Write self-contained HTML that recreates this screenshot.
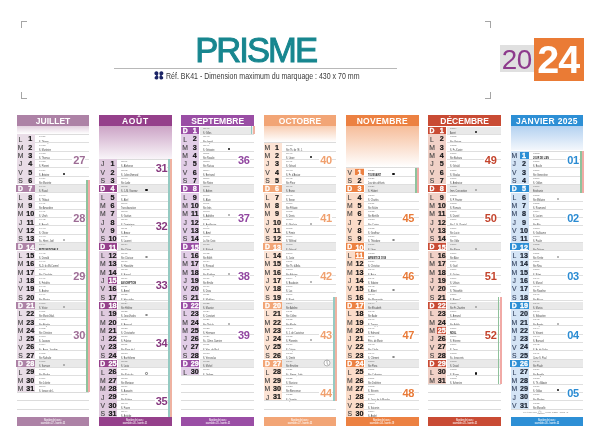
<!DOCTYPE html>
<html lang="fr"><head><meta charset="utf-8"><title>Calendrier Prisme 2024</title>
<style>
*{margin:0;padding:0;box-sizing:border-box}
html,body{width:600px;height:442px;overflow:hidden;background:#fff}
body{position:relative;font-family:"Liberation Sans",Arial,sans-serif}
div,span,i,b{position:absolute;display:block;font-style:normal}
.cm{width:6.5px;height:6.5px;border:0 solid #a5a5a5}
#title{left:195.2px;top:30.5px;width:126px;font-size:34.6px;line-height:38px;color:#17868f;letter-spacing:-1.95px;white-space:nowrap;-webkit-text-stroke:1.0px #17868f}
#rule{left:114px;top:67.6px;width:283px;height:0.8px;background:#b8b8b8}
#ref{left:153.6px;top:71.4px;height:9px;white-space:nowrap}
#ref svg{position:absolute;left:0;top:0}
#ref span{left:12.5px;top:0.6px;font-size:9px;line-height:9px;color:#3a3a3a;transform:scaleX(0.78);transform-origin:0 0}
#y20{left:499.7px;top:45.4px;width:34px;height:27px;background:#e0e0e0;color:#8d3a8c;font-size:27.8px;line-height:30px;text-align:center;letter-spacing:-0.5px}
#y24{left:533.5px;top:37.9px;width:50.4px;height:42.7px;background:#ea7b35;color:#fff;font-weight:bold;font-size:39.5px;line-height:43px;text-align:center;letter-spacing:-1px;text-indent:-1px}
.hd{top:114.5px;height:11.3px;overflow:hidden;color:#fff;font-weight:bold;font-size:8.5px;line-height:13px;text-align:center;white-space:nowrap}
.rw{width:72.6px;height:8.326px}
.rw:after{content:'';position:absolute;left:18.3px;right:0;bottom:-0.4px;height:0.8px;background:#dfdfdf}
.rw .cb{left:0;top:0;width:18px;height:8.4px}
.rw .cs{left:-0.5px;top:0.8px;width:18.5px;height:7px}
.rw .tx{left:18.5px;top:0.8px;width:54.1px;height:7px;background:#e9e9e9}
.rw .hb{left:9px;top:0.9px;width:9px;height:6.8px}
.lt{left:-0.2px;top:1.2px;width:7.8px;text-align:center;font-size:6.8px;line-height:8.3px;color:#404040;-webkit-text-stroke:0.1px #404040}
.nb{left:8.4px;top:1.0px;width:10px;text-align:center;font-size:7.2px;line-height:8.3px;font-weight:bold;color:#151515;-webkit-text-stroke:0.2px #151515}
.lt.w,.nb.w{color:#fff;font-weight:bold;-webkit-text-stroke:0.3px #fff}
.lt.w{top:0.9px}
.t1{left:22px;top:0.9px;font-size:10px;line-height:10px;color:#707070;white-space:nowrap;transform:scale(0.26,0.25);transform-origin:0 0}
.t2{left:22px;top:6.2px;font-size:10px;line-height:10px;color:#444;white-space:nowrap;transform:scale(0.225,0.27);transform-origin:0 0}
.t2.bb{font-weight:bold;color:#222}
.mn{left:46.4px;top:5px;width:2.2px;height:2.2px;border-radius:50%;background:#111}
.mo{left:46.4px;top:5px;width:2.2px;height:2.2px;border-radius:50%;border:0.4px solid #888}
.el{height:0.8px;background:#dcdcdc}
.s1{width:1.7px}
.s2{width:2.0px}
.wk{width:12.6px;height:9.2px;background:#fff;text-align:right;font-size:11px;line-height:9.2px;font-weight:bold;letter-spacing:-0.3px;overflow:visible;white-space:nowrap}
.ft{top:417.3px;height:8.3px;color:rgba(255,255,255,0.85);font-weight:bold;text-align:center}
.ft span{left:50%;font-size:10px;line-height:10px;white-space:nowrap;transform:scale(0.21,0.27) translateX(-50%);transform-origin:0 0}
.ft span:first-child{top:1.3px}
.ft span:last-child{top:4.8px}
#legend{left:523px;top:411.3px;width:48px;height:4px;color:#6a6a6a;white-space:nowrap}
#legend span{top:0;font-size:2.2px;line-height:2.6px}
#legend .la{left:0;transform:scaleX(0.56);transform-origin:0 0}
#legend .lb{left:15.2px;top:-0.6px;font-size:3.6px;line-height:3.6px;color:#999}
#legend .lc{left:13.5px;top:2.2px;font-size:1.6px;transform:scaleX(0.8);transform-origin:0 0}
#legend .ld{left:21.5px;transform:scaleX(1.05);transform-origin:0 0}
.clk{position:absolute;left:59.3px;top:0.3px}
.jan .lt:not(.w){color:#34425e;-webkit-text-stroke-color:#34425e}
.jan .nb:not(.w){color:#18202e;-webkit-text-stroke-color:#18202e}

</style></head><body>
<div class="cm" style="left:20.5px;top:21px;border-width:1px 0 0 1px"></div>
<div class="cm" style="left:20.5px;top:92px;border-width:0 0 1px 1px"></div>
<div class="cm" style="left:484.5px;top:21px;border-width:1px 1px 0 0"></div>
<div class="cm" style="left:484.5px;top:92px;border-width:0 1px 1px 0"></div>
<div id="title">PRISME</div>
<div id="rule"></div>
<div id="ref"><svg width="10" height="9" viewBox="0 0 10 9"><g fill="#1b2466"><path d="M0.4 2.3C0.4 0.9 1.5 0.2 2.6 0.3C3.7 0.4 4.4 1.3 4.4 2.4C4.4 3.3 3.9 3.9 3.3 4.3C3.9 4.7 4.4 5.4 4.4 6.4C4.4 7.7 3.5 8.5 2.4 8.5C1.2 8.5 0.4 7.6 0.6 6.5C0.8 5.6 1.6 5.1 2.3 4.4C1.2 4.2 0.4 3.4 0.4 2.3Z"/><path d="M9.4 2.3C9.4 0.9 8.3 0.2 7.2 0.3C6.1 0.4 5.4 1.3 5.4 2.4C5.4 3.3 5.9 3.9 6.5 4.3C5.9 4.7 5.4 5.4 5.4 6.4C5.4 7.7 6.3 8.5 7.4 8.5C8.6 8.5 9.4 7.6 9.2 6.5C9 5.6 8.2 5.1 7.5 4.4C8.6 4.2 9.4 3.4 9.4 2.3Z"/></g></svg><span>Réf. BK41 - Dimension maximum du marquage : 430 x 70 mm</span></div>
<div id="y20">20</div><div id="y24">24</div>
<div class="hd" style="left:16.8px;width:72.6px;background:#ad82a6;letter-spacing:0px">JUILLET</div>
<div class="gr" style="left:16.8px;top:126px;width:72.6px;height:7.53px;background:linear-gradient(#e3d1df,#fff)"></div>
<i class="el" style="left:16.8px;top:133.93px;width:72.6px"></i>
<div class="rw" style="left:16.8px;top:134.33px">
<b class="cb" style="background:#e9dde7"></b>
<span class="lt">L</span><span class="nb">1</span>
<span class="t1">04:37</span><span class="t2">S. Thierry</span>
</div>
<div class="rw" style="left:16.8px;top:142.65px">
<b class="cb" style="background:#e9dde7"></b>
<span class="lt">M</span><span class="nb">2</span>
<span class="t1">04:38</span><span class="t2">S. Martinien</span>
</div>
<div class="rw" style="left:16.8px;top:150.98px">
<b class="cb" style="background:#e9dde7"></b>
<span class="lt">M</span><span class="nb">3</span>
<span class="t1">04:38</span><span class="t2">S. Thomas</span>
</div>
<div class="rw" style="left:16.8px;top:159.3px">
<b class="cb" style="background:#e9dde7"></b>
<span class="lt">J</span><span class="nb">4</span>
<span class="t1">04:38</span><span class="t2">S. Florent</span>
</div>
<div class="rw" style="left:16.8px;top:167.63px">
<b class="cb" style="background:#e9dde7"></b>
<span class="lt">V</span><span class="nb">5</span>
<span class="t1">04:39</span><span class="t2">S. Antoine</span>
<i class="mn"></i>
</div>
<div class="rw" style="left:16.8px;top:175.96px">
<b class="cb" style="background:#e9dde7"></b>
<span class="lt">S</span><span class="nb">6</span>
<span class="t1">04:39</span><span class="t2">Ste Mariette</span>
</div>
<div class="rw sun" style="left:16.8px;top:184.28px">
<b class="cs" style="background:#ad82a6"></b><i class="tx"></i>
<span class="lt w">D</span><span class="nb w">7</span>
<span class="t1">04:40</span><span class="t2">S. Raoul</span>
</div>
<div class="rw" style="left:16.8px;top:192.61px">
<b class="cb" style="background:#e9dde7"></b>
<span class="lt">L</span><span class="nb">8</span>
<span class="t1">04:40</span><span class="t2">S. Thibaut</span>
</div>
<div class="rw" style="left:16.8px;top:200.93px">
<b class="cb" style="background:#e9dde7"></b>
<span class="lt">M</span><span class="nb">9</span>
<span class="t1">04:41</span><span class="t2">Ste Amandine</span>
</div>
<div class="rw" style="left:16.8px;top:209.26px">
<b class="cb" style="background:#e9dde7"></b>
<span class="lt">M</span><span class="nb">10</span>
<span class="t1">04:41</span><span class="t2">S. Ulrich</span>
</div>
<div class="rw" style="left:16.8px;top:217.59px">
<b class="cb" style="background:#e9dde7"></b>
<span class="lt">J</span><span class="nb">11</span>
<span class="t1">04:42</span><span class="t2">S. Benoît</span>
</div>
<div class="rw" style="left:16.8px;top:225.91px">
<b class="cb" style="background:#e9dde7"></b>
<span class="lt">V</span><span class="nb">12</span>
<span class="t1">04:43</span><span class="t2">S. Olivier</span>
</div>
<div class="rw" style="left:16.8px;top:234.24px">
<b class="cb" style="background:#e9dde7"></b>
<span class="lt">S</span><span class="nb">13</span>
<span class="t1">04:43</span><span class="t2">Ss. Henri, Joël</span>
<i class="mo"></i>
</div>
<div class="rw sun" style="left:16.8px;top:242.56px">
<b class="cs" style="background:#ad82a6"></b><i class="tx"></i>
<span class="lt w">D</span><span class="nb w">14</span>
<span class="t1">04:44</span><span class="t2 bb">FÊTE NATIONALE</span>
</div>
<div class="rw" style="left:16.8px;top:250.89px">
<b class="cb" style="background:#e9dde7"></b>
<span class="lt">L</span><span class="nb">15</span>
<span class="t1">04:45</span><span class="t2">S. Donald</span>
</div>
<div class="rw" style="left:16.8px;top:259.22px">
<b class="cb" style="background:#e9dde7"></b>
<span class="lt">M</span><span class="nb">16</span>
<span class="t1">04:46</span><span class="t2">N.-D. du Mt-Carmel</span>
</div>
<div class="rw" style="left:16.8px;top:267.54px">
<b class="cb" style="background:#e9dde7"></b>
<span class="lt">M</span><span class="nb">17</span>
<span class="t1">04:46</span><span class="t2">Ste Charlotte</span>
</div>
<div class="rw" style="left:16.8px;top:275.87px">
<b class="cb" style="background:#e9dde7"></b>
<span class="lt">J</span><span class="nb">18</span>
<span class="t1">04:47</span><span class="t2">S. Frédéric</span>
</div>
<div class="rw" style="left:16.8px;top:284.19px">
<b class="cb" style="background:#e9dde7"></b>
<span class="lt">V</span><span class="nb">19</span>
<span class="t1">04:48</span><span class="t2">S. Arsène</span>
</div>
<div class="rw" style="left:16.8px;top:292.52px">
<b class="cb" style="background:#e9dde7"></b>
<span class="lt">S</span><span class="nb">20</span>
<span class="t1">04:49</span><span class="t2">Ste Marina</span>
</div>
<div class="rw sun" style="left:16.8px;top:300.85px">
<b class="cs" style="background:#ad82a6"></b><i class="tx"></i>
<span class="lt w">D</span><span class="nb w">21</span>
<span class="t1">04:50</span><span class="t2">S. Victor</span>
<i class="mo"></i>
</div>
<div class="rw" style="left:16.8px;top:309.17px">
<b class="cb" style="background:#e9dde7"></b>
<span class="lt">L</span><span class="nb">22</span>
<span class="t1">04:51</span><span class="t2">Ste Marie-Mad.</span>
</div>
<div class="rw" style="left:16.8px;top:317.5px">
<b class="cb" style="background:#e9dde7"></b>
<span class="lt">M</span><span class="nb">23</span>
<span class="t1">04:52</span><span class="t2">Ste Brigitte</span>
</div>
<div class="rw" style="left:16.8px;top:325.82px">
<b class="cb" style="background:#e9dde7"></b>
<span class="lt">M</span><span class="nb">24</span>
<span class="t1">04:52</span><span class="t2">Ste Christine</span>
</div>
<div class="rw" style="left:16.8px;top:334.15px">
<b class="cb" style="background:#e9dde7"></b>
<span class="lt">J</span><span class="nb">25</span>
<span class="t1">04:53</span><span class="t2">S. Jacques</span>
</div>
<div class="rw" style="left:16.8px;top:342.48px">
<b class="cb" style="background:#e9dde7"></b>
<span class="lt">V</span><span class="nb">26</span>
<span class="t1">04:54</span><span class="t2">Ss. Anne, Joachim</span>
</div>
<div class="rw" style="left:16.8px;top:350.8px">
<b class="cb" style="background:#e9dde7"></b>
<span class="lt">S</span><span class="nb">27</span>
<span class="t1">04:55</span><span class="t2">Ste Nathalie</span>
</div>
<div class="rw sun" style="left:16.8px;top:359.13px">
<b class="cs" style="background:#ad82a6"></b><i class="tx"></i>
<span class="lt w">D</span><span class="nb w">28</span>
<span class="t1">04:57</span><span class="t2">S. Samson</span>
<i class="mo"></i>
</div>
<div class="rw" style="left:16.8px;top:367.45px">
<b class="cb" style="background:#e9dde7"></b>
<span class="lt">L</span><span class="nb">29</span>
<span class="t1">04:58</span><span class="t2">Ste Marthe</span>
</div>
<div class="rw" style="left:16.8px;top:375.78px">
<b class="cb" style="background:#e9dde7"></b>
<span class="lt">M</span><span class="nb">30</span>
<span class="t1">04:59</span><span class="t2">Ste Juliette</span>
</div>
<div class="rw" style="left:16.8px;top:384.11px">
<b class="cb" style="background:#e9dde7"></b>
<span class="lt">M</span><span class="nb">31</span>
<span class="t1">05:00</span><span class="t2">S. Ignace de L.</span>
</div>
<i class="el" style="left:16.8px;top:392.03px;width:72.6px"></i>
<i class="el" style="left:16.8px;top:400.36px;width:72.6px"></i>
<i class="el" style="left:16.8px;top:408.68px;width:72.6px"></i>
<i class="s1" style="left:86.1px;top:180.12px;height:212.31px;background:#8fc29c"></i>
<i class="s2" style="left:88px;top:180.12px;height:212.31px;background:#f1aaa6"></i>
<span class="wk" style="left:72.4px;top:155.8px;color:#9d6c95">27</span>
<span class="wk" style="left:72.4px;top:214.09px;color:#9d6c95">28</span>
<span class="wk" style="left:72.4px;top:272.37px;color:#9d6c95">29</span>
<span class="wk" style="left:72.4px;top:330.65px;color:#9d6c95">30</span>
<div class="ft" style="left:16.8px;width:72.6px;background:#ad82a6"><span>Nombre de jours :</span><span>ouvrables 27 - ouvrés 23</span></div>
<div class="hd" style="left:99.1px;width:72.6px;background:#95408b;letter-spacing:0.7px">AOÛT</div>
<div class="gr" style="left:99.1px;top:126px;width:72.6px;height:32.5px;background:linear-gradient(#cca4c6,#f9f5f9)"></div>
<i class="el" style="left:99.1px;top:158.9px;width:72.6px"></i>
<div class="rw" style="left:99.1px;top:159.3px">
<b class="cb" style="background:#dfcade"></b>
<span class="lt">J</span><span class="nb">1</span>
<span class="t1">05:01</span><span class="t2">S. Alphonse</span>
</div>
<div class="rw" style="left:99.1px;top:167.63px">
<b class="cb" style="background:#dfcade"></b>
<span class="lt">V</span><span class="nb">2</span>
<span class="t1">05:02</span><span class="t2">S. Julien-Eymard</span>
</div>
<div class="rw" style="left:99.1px;top:175.96px">
<b class="cb" style="background:#dfcade"></b>
<span class="lt">S</span><span class="nb">3</span>
<span class="t1">05:03</span><span class="t2">Ste Lydie</span>
</div>
<div class="rw sun" style="left:99.1px;top:184.28px">
<b class="cs" style="background:#95408b"></b><i class="tx"></i>
<span class="lt w">D</span><span class="nb w">4</span>
<span class="t1">05:05</span><span class="t2">S. J.-M. Vianney</span>
<i class="mn"></i>
</div>
<div class="rw" style="left:99.1px;top:192.61px">
<b class="cb" style="background:#dfcade"></b>
<span class="lt">L</span><span class="nb">5</span>
<span class="t1">05:06</span><span class="t2">S. Abel</span>
</div>
<div class="rw" style="left:99.1px;top:200.93px">
<b class="cb" style="background:#dfcade"></b>
<span class="lt">M</span><span class="nb">6</span>
<span class="t1">05:07</span><span class="t2">Transfiguration</span>
</div>
<div class="rw" style="left:99.1px;top:209.26px">
<b class="cb" style="background:#dfcade"></b>
<span class="lt">M</span><span class="nb">7</span>
<span class="t1">05:08</span><span class="t2">S. Gaëtan</span>
</div>
<div class="rw" style="left:99.1px;top:217.59px">
<b class="cb" style="background:#dfcade"></b>
<span class="lt">J</span><span class="nb">8</span>
<span class="t1">05:10</span><span class="t2">S. Dominique</span>
</div>
<div class="rw" style="left:99.1px;top:225.91px">
<b class="cb" style="background:#dfcade"></b>
<span class="lt">V</span><span class="nb">9</span>
<span class="t1">05:11</span><span class="t2">S. Amour</span>
</div>
<div class="rw" style="left:99.1px;top:234.24px">
<b class="cb" style="background:#dfcade"></b>
<span class="lt">S</span><span class="nb">10</span>
<span class="t1">05:12</span><span class="t2">S. Laurent</span>
</div>
<div class="rw sun" style="left:99.1px;top:242.56px">
<b class="cs" style="background:#95408b"></b><i class="tx"></i>
<span class="lt w">D</span><span class="nb w">11</span>
<span class="t1">05:14</span><span class="t2">Ste Claire</span>
</div>
<div class="rw" style="left:99.1px;top:250.89px">
<b class="cb" style="background:#dfcade"></b>
<span class="lt">L</span><span class="nb">12</span>
<span class="t1">05:15</span><span class="t2">Ste Clarisse</span>
<i class="mo"></i>
</div>
<div class="rw" style="left:99.1px;top:259.22px">
<b class="cb" style="background:#dfcade"></b>
<span class="lt">M</span><span class="nb">13</span>
<span class="t1">05:16</span><span class="t2">S. Hippolyte</span>
</div>
<div class="rw" style="left:99.1px;top:267.54px">
<b class="cb" style="background:#dfcade"></b>
<span class="lt">M</span><span class="nb">14</span>
<span class="t1">05:18</span><span class="t2">S. Evrard</span>
</div>
<div class="rw" style="left:99.1px;top:275.87px">
<b class="cb" style="background:#dfcade"></b>
<b class="hb" style="background:#95408b"></b>
<span class="lt">J</span><span class="nb w">15</span>
<span class="t1">05:19</span><span class="t2 bb">ASSOMPTION</span>
</div>
<div class="rw" style="left:99.1px;top:284.19px">
<b class="cb" style="background:#dfcade"></b>
<span class="lt">V</span><span class="nb">16</span>
<span class="t1">05:21</span><span class="t2">S. Armel</span>
</div>
<div class="rw" style="left:99.1px;top:292.52px">
<b class="cb" style="background:#dfcade"></b>
<span class="lt">S</span><span class="nb">17</span>
<span class="t1">05:22</span><span class="t2">S. Hyacinthe</span>
</div>
<div class="rw sun" style="left:99.1px;top:300.85px">
<b class="cs" style="background:#95408b"></b><i class="tx"></i>
<span class="lt w">D</span><span class="nb w">18</span>
<span class="t1">05:24</span><span class="t2">Ste Hélène</span>
</div>
<div class="rw" style="left:99.1px;top:309.17px">
<b class="cb" style="background:#dfcade"></b>
<span class="lt">L</span><span class="nb">19</span>
<span class="t1">05:25</span><span class="t2">S. Jean-Eudes</span>
<i class="mo"></i>
</div>
<div class="rw" style="left:99.1px;top:317.5px">
<b class="cb" style="background:#dfcade"></b>
<span class="lt">M</span><span class="nb">20</span>
<span class="t1">05:27</span><span class="t2">S. Bernard</span>
</div>
<div class="rw" style="left:99.1px;top:325.82px">
<b class="cb" style="background:#dfcade"></b>
<span class="lt">M</span><span class="nb">21</span>
<span class="t1">05:28</span><span class="t2">S. Christophe</span>
</div>
<div class="rw" style="left:99.1px;top:334.15px">
<b class="cb" style="background:#dfcade"></b>
<span class="lt">J</span><span class="nb">22</span>
<span class="t1">05:30</span><span class="t2">S. Fabrice</span>
</div>
<div class="rw" style="left:99.1px;top:342.48px">
<b class="cb" style="background:#dfcade"></b>
<span class="lt">V</span><span class="nb">23</span>
<span class="t1">05:31</span><span class="t2">Ste Rose de L.</span>
</div>
<div class="rw" style="left:99.1px;top:350.8px">
<b class="cb" style="background:#dfcade"></b>
<span class="lt">S</span><span class="nb">24</span>
<span class="t1">05:33</span><span class="t2">S. Barthélemy</span>
</div>
<div class="rw sun" style="left:99.1px;top:359.13px">
<b class="cs" style="background:#95408b"></b><i class="tx"></i>
<span class="lt w">D</span><span class="nb w">25</span>
<span class="t1">05:35</span><span class="t2">S. Louis</span>
</div>
<div class="rw" style="left:99.1px;top:367.45px">
<b class="cb" style="background:#dfcade"></b>
<span class="lt">L</span><span class="nb">26</span>
<span class="t1">05:36</span><span class="t2">Ste Natacha</span>
<i class="mo"></i>
</div>
<div class="rw" style="left:99.1px;top:375.78px">
<b class="cb" style="background:#dfcade"></b>
<span class="lt">M</span><span class="nb">27</span>
<span class="t1">05:38</span><span class="t2">Ste Monique</span>
</div>
<div class="rw" style="left:99.1px;top:384.11px">
<b class="cb" style="background:#dfcade"></b>
<span class="lt">M</span><span class="nb">28</span>
<span class="t1">05:39</span><span class="t2">S. Augustin</span>
</div>
<div class="rw" style="left:99.1px;top:392.43px">
<b class="cb" style="background:#dfcade"></b>
<span class="lt">J</span><span class="nb">29</span>
<span class="t1">05:41</span><span class="t2">Ste Sabine</span>
</div>
<div class="rw" style="left:99.1px;top:400.76px">
<b class="cb" style="background:#dfcade"></b>
<span class="lt">V</span><span class="nb">30</span>
<span class="t1">05:43</span><span class="t2">S. Fiacre</span>
</div>
<div class="rw" style="left:99.1px;top:409.08px">
<b class="cb" style="background:#dfcade"></b>
<span class="lt">S</span><span class="nb">31</span>
<span class="t1">05:44</span><span class="t2">S. Aristide</span>
</div>
<i class="s1" style="left:168.4px;top:159.3px;height:258.11px;background:#95cac2"></i>
<i class="s2" style="left:170.3px;top:159.3px;height:258.11px;background:#efb2a1"></i>
<span class="wk" style="left:154.7px;top:164.13px;color:#86377e">31</span>
<span class="wk" style="left:154.7px;top:222.41px;color:#86377e">32</span>
<span class="wk" style="left:154.7px;top:280.69px;color:#86377e">33</span>
<span class="wk" style="left:154.7px;top:338.98px;color:#86377e">34</span>
<span class="wk" style="left:154.7px;top:397.26px;color:#86377e">35</span>
<div class="ft" style="left:99.1px;width:72.6px;background:#95408b"><span>Nombre de jours :</span><span>ouvrables 26 - ouvrés 21</span></div>
<div class="hd" style="left:181.4px;width:72.6px;background:#9a4ea5;letter-spacing:0px">SEPTEMBRE</div>
<div class="rw sun" style="left:181.4px;top:126px">
<b class="cs" style="background:#9a4ea5"></b><i class="tx"></i>
<span class="lt w">D</span><span class="nb w">1</span>
<span class="t1">05:46</span><span class="t2">S. Gilles</span>
</div>
<div class="rw" style="left:181.4px;top:134.33px">
<b class="cb" style="background:#e2cee7"></b>
<span class="lt">L</span><span class="nb">2</span>
<span class="t1">05:48</span><span class="t2">Ste Ingrid</span>
</div>
<div class="rw" style="left:181.4px;top:142.65px">
<b class="cb" style="background:#e2cee7"></b>
<span class="lt">M</span><span class="nb">3</span>
<span class="t1">05:49</span><span class="t2">S. Grégoire</span>
<i class="mn"></i>
</div>
<div class="rw" style="left:181.4px;top:150.98px">
<b class="cb" style="background:#e2cee7"></b>
<span class="lt">M</span><span class="nb">4</span>
<span class="t1">05:51</span><span class="t2">Ste Rosalie</span>
</div>
<div class="rw" style="left:181.4px;top:159.3px">
<b class="cb" style="background:#e2cee7"></b>
<span class="lt">J</span><span class="nb">5</span>
<span class="t1">05:53</span><span class="t2">Ste Raïssa</span>
</div>
<div class="rw" style="left:181.4px;top:167.63px">
<b class="cb" style="background:#e2cee7"></b>
<span class="lt">V</span><span class="nb">6</span>
<span class="t1">05:54</span><span class="t2">S. Bertrand</span>
</div>
<div class="rw" style="left:181.4px;top:175.96px">
<b class="cb" style="background:#e2cee7"></b>
<span class="lt">S</span><span class="nb">7</span>
<span class="t1">05:56</span><span class="t2">Ste Reine</span>
</div>
<div class="rw sun" style="left:181.4px;top:184.28px">
<b class="cs" style="background:#9a4ea5"></b><i class="tx"></i>
<span class="lt w">D</span><span class="nb w">8</span>
<span class="t1">05:58</span><span class="t2">S. Adrien</span>
</div>
<div class="rw" style="left:181.4px;top:192.61px">
<b class="cb" style="background:#e2cee7"></b>
<span class="lt">L</span><span class="nb">9</span>
<span class="t1">06:00</span><span class="t2">S. Alain</span>
</div>
<div class="rw" style="left:181.4px;top:200.93px">
<b class="cb" style="background:#e2cee7"></b>
<span class="lt">M</span><span class="nb">10</span>
<span class="t1">06:01</span><span class="t2">Ste Inès</span>
</div>
<div class="rw" style="left:181.4px;top:209.26px">
<b class="cb" style="background:#e2cee7"></b>
<span class="lt">M</span><span class="nb">11</span>
<span class="t1">06:03</span><span class="t2">S. Adelphe</span>
<i class="mo"></i>
</div>
<div class="rw" style="left:181.4px;top:217.59px">
<b class="cb" style="background:#e2cee7"></b>
<span class="lt">J</span><span class="nb">12</span>
<span class="t1">06:05</span><span class="t2">S. Apollinaire</span>
</div>
<div class="rw" style="left:181.4px;top:225.91px">
<b class="cb" style="background:#e2cee7"></b>
<span class="lt">V</span><span class="nb">13</span>
<span class="t1">06:07</span><span class="t2">S. Aimé</span>
</div>
<div class="rw" style="left:181.4px;top:234.24px">
<b class="cb" style="background:#e2cee7"></b>
<span class="lt">S</span><span class="nb">14</span>
<span class="t1">06:08</span><span class="t2">La Ste Croix</span>
</div>
<div class="rw sun" style="left:181.4px;top:242.56px">
<b class="cs" style="background:#9a4ea5"></b><i class="tx"></i>
<span class="lt w">D</span><span class="nb w">15</span>
<span class="t1">06:10</span><span class="t2">S. Roland</span>
</div>
<div class="rw" style="left:181.4px;top:250.89px">
<b class="cb" style="background:#e2cee7"></b>
<span class="lt">L</span><span class="nb">16</span>
<span class="t1">06:12</span><span class="t2">Ste Edith</span>
</div>
<div class="rw" style="left:181.4px;top:259.22px">
<b class="cb" style="background:#e2cee7"></b>
<span class="lt">M</span><span class="nb">17</span>
<span class="t1">06:14</span><span class="t2">S. Renaud</span>
</div>
<div class="rw" style="left:181.4px;top:267.54px">
<b class="cb" style="background:#e2cee7"></b>
<span class="lt">M</span><span class="nb">18</span>
<span class="t1">06:15</span><span class="t2">Ste Nadège</span>
<i class="mo"></i>
</div>
<div class="rw" style="left:181.4px;top:275.87px">
<b class="cb" style="background:#e2cee7"></b>
<span class="lt">J</span><span class="nb">19</span>
<span class="t1">06:17</span><span class="t2">Ste Emilie</span>
</div>
<div class="rw" style="left:181.4px;top:284.19px">
<b class="cb" style="background:#e2cee7"></b>
<span class="lt">V</span><span class="nb">20</span>
<span class="t1">06:19</span><span class="t2">S. Davy</span>
</div>
<div class="rw" style="left:181.4px;top:292.52px">
<b class="cb" style="background:#e2cee7"></b>
<span class="lt">S</span><span class="nb">21</span>
<span class="t1">06:21</span><span class="t2">S. Matthieu</span>
</div>
<div class="rw sun" style="left:181.4px;top:300.85px">
<b class="cs" style="background:#9a4ea5"></b><i class="tx"></i>
<span class="lt w">D</span><span class="nb w">22</span>
<span class="t1">06:22</span><span class="t2">S. Maurice</span>
</div>
<div class="rw" style="left:181.4px;top:309.17px">
<b class="cb" style="background:#e2cee7"></b>
<span class="lt">L</span><span class="nb">23</span>
<span class="t1">06:24</span><span class="t2">S. Constant</span>
</div>
<div class="rw" style="left:181.4px;top:317.5px">
<b class="cb" style="background:#e2cee7"></b>
<span class="lt">M</span><span class="nb">24</span>
<span class="t1">06:26</span><span class="t2">Ste Thècle</span>
<i class="mo"></i>
</div>
<div class="rw" style="left:181.4px;top:325.82px">
<b class="cb" style="background:#e2cee7"></b>
<span class="lt">M</span><span class="nb">25</span>
<span class="t1">06:28</span><span class="t2">S. Hermann</span>
</div>
<div class="rw" style="left:181.4px;top:334.15px">
<b class="cb" style="background:#e2cee7"></b>
<span class="lt">J</span><span class="nb">26</span>
<span class="t1">06:29</span><span class="t2">Ss. Côme, Damien</span>
</div>
<div class="rw" style="left:181.4px;top:342.48px">
<b class="cb" style="background:#e2cee7"></b>
<span class="lt">V</span><span class="nb">27</span>
<span class="t1">06:31</span><span class="t2">S. Vinc. de Paul</span>
</div>
<div class="rw" style="left:181.4px;top:350.8px">
<b class="cb" style="background:#e2cee7"></b>
<span class="lt">S</span><span class="nb">28</span>
<span class="t1">06:33</span><span class="t2">S. Venceslas</span>
</div>
<div class="rw sun" style="left:181.4px;top:359.13px">
<b class="cs" style="background:#9a4ea5"></b><i class="tx"></i>
<span class="lt w">D</span><span class="nb w">29</span>
<span class="t1">06:35</span><span class="t2">S. Michel</span>
</div>
<div class="rw" style="left:181.4px;top:367.45px">
<b class="cb" style="background:#e2cee7"></b>
<span class="lt">L</span><span class="nb">30</span>
<span class="t1">06:36</span><span class="t2">S. Jérôme</span>
</div>
<i class="el" style="left:181.4px;top:375.38px;width:72.6px"></i>
<i class="el" style="left:181.4px;top:383.71px;width:72.6px"></i>
<i class="el" style="left:181.4px;top:392.03px;width:72.6px"></i>
<i class="el" style="left:181.4px;top:400.36px;width:72.6px"></i>
<i class="el" style="left:181.4px;top:408.68px;width:72.6px"></i>
<i class="s1" style="left:250.7px;top:126px;height:8.33px;background:#95cac2"></i>
<i class="s2" style="left:252.6px;top:126px;height:8.33px;background:#efb2a1"></i>
<span class="wk" style="left:237px;top:155.8px;color:#9146a0">36</span>
<span class="wk" style="left:237px;top:214.09px;color:#9146a0">37</span>
<span class="wk" style="left:237px;top:272.37px;color:#9146a0">38</span>
<span class="wk" style="left:237px;top:330.65px;color:#9146a0">39</span>
<div class="ft" style="left:181.4px;width:72.6px;background:#9a4ea5"><span>Nombre de jours :</span><span>ouvrables 25 - ouvrés 21</span></div>
<div class="hd" style="left:263.7px;width:72.6px;background:#f2a576;letter-spacing:0px">OCTOBRE</div>
<div class="gr" style="left:263.7px;top:126px;width:72.6px;height:15.85px;background:linear-gradient(#f8cdb2,#fff)"></div>
<i class="el" style="left:263.7px;top:142.25px;width:72.6px"></i>
<div class="rw" style="left:263.7px;top:142.65px">
<b class="cb" style="background:#fce3d4"></b>
<span class="lt">M</span><span class="nb">1</span>
<span class="t1">06:38</span><span class="t2">Ste Th. de l'E. J.</span>
</div>
<div class="rw" style="left:263.7px;top:150.98px">
<b class="cb" style="background:#fce3d4"></b>
<span class="lt">M</span><span class="nb">2</span>
<span class="t1">06:40</span><span class="t2">S. Léger</span>
<i class="mn"></i>
</div>
<div class="rw" style="left:263.7px;top:159.3px">
<b class="cb" style="background:#fce3d4"></b>
<span class="lt">J</span><span class="nb">3</span>
<span class="t1">06:41</span><span class="t2">S. Gérard</span>
</div>
<div class="rw" style="left:263.7px;top:167.63px">
<b class="cb" style="background:#fce3d4"></b>
<span class="lt">V</span><span class="nb">4</span>
<span class="t1">06:43</span><span class="t2">S. Fr. d'Assise</span>
</div>
<div class="rw" style="left:263.7px;top:175.96px">
<b class="cb" style="background:#fce3d4"></b>
<span class="lt">S</span><span class="nb">5</span>
<span class="t1">06:45</span><span class="t2">Ste Fleur</span>
</div>
<div class="rw sun" style="left:263.7px;top:184.28px">
<b class="cs" style="background:#f2a576"></b><i class="tx"></i>
<span class="lt w">D</span><span class="nb w">6</span>
<span class="t1">06:47</span><span class="t2">S. Bruno</span>
</div>
<div class="rw" style="left:263.7px;top:192.61px">
<b class="cb" style="background:#fce3d4"></b>
<span class="lt">L</span><span class="nb">7</span>
<span class="t1">06:48</span><span class="t2">S. Serge</span>
</div>
<div class="rw" style="left:263.7px;top:200.93px">
<b class="cb" style="background:#fce3d4"></b>
<span class="lt">M</span><span class="nb">8</span>
<span class="t1">06:50</span><span class="t2">Ste Pélagie</span>
</div>
<div class="rw" style="left:263.7px;top:209.26px">
<b class="cb" style="background:#fce3d4"></b>
<span class="lt">M</span><span class="nb">9</span>
<span class="t1">06:52</span><span class="t2">S. Denis</span>
</div>
<div class="rw" style="left:263.7px;top:217.59px">
<b class="cb" style="background:#fce3d4"></b>
<span class="lt">J</span><span class="nb">10</span>
<span class="t1">06:53</span><span class="t2">S. Ghislain</span>
<i class="mo"></i>
</div>
<div class="rw" style="left:263.7px;top:225.91px">
<b class="cb" style="background:#fce3d4"></b>
<span class="lt">V</span><span class="nb">11</span>
<span class="t1">06:55</span><span class="t2">S. Firmin</span>
</div>
<div class="rw" style="left:263.7px;top:234.24px">
<b class="cb" style="background:#fce3d4"></b>
<span class="lt">S</span><span class="nb">12</span>
<span class="t1">06:56</span><span class="t2">S. Wilfried</span>
</div>
<div class="rw sun" style="left:263.7px;top:242.56px">
<b class="cs" style="background:#f2a576"></b><i class="tx"></i>
<span class="lt w">D</span><span class="nb w">13</span>
<span class="t1">06:58</span><span class="t2">S. Géraud</span>
</div>
<div class="rw" style="left:263.7px;top:250.89px">
<b class="cb" style="background:#fce3d4"></b>
<span class="lt">L</span><span class="nb">14</span>
<span class="t1">07:00</span><span class="t2">S. Juste</span>
</div>
<div class="rw" style="left:263.7px;top:259.22px">
<b class="cb" style="background:#fce3d4"></b>
<span class="lt">M</span><span class="nb">15</span>
<span class="t1">07:01</span><span class="t2">Ste Th. d'Avila</span>
</div>
<div class="rw" style="left:263.7px;top:267.54px">
<b class="cb" style="background:#fce3d4"></b>
<span class="lt">M</span><span class="nb">16</span>
<span class="t1">07:03</span><span class="t2">Ste Edwige</span>
</div>
<div class="rw" style="left:263.7px;top:275.87px">
<b class="cb" style="background:#fce3d4"></b>
<span class="lt">J</span><span class="nb">17</span>
<span class="t1">07:04</span><span class="t2">S. Baudouin</span>
<i class="mo"></i>
</div>
<div class="rw" style="left:263.7px;top:284.19px">
<b class="cb" style="background:#fce3d4"></b>
<span class="lt">V</span><span class="nb">18</span>
<span class="t1">07:06</span><span class="t2">S. Luc</span>
</div>
<div class="rw" style="left:263.7px;top:292.52px">
<b class="cb" style="background:#fce3d4"></b>
<span class="lt">S</span><span class="nb">19</span>
<span class="t1">07:07</span><span class="t2">S. René</span>
</div>
<div class="rw sun" style="left:263.7px;top:300.85px">
<b class="cs" style="background:#f2a576"></b><i class="tx"></i>
<span class="lt w">D</span><span class="nb w">20</span>
<span class="t1">07:09</span><span class="t2">Ste Adeline</span>
</div>
<div class="rw" style="left:263.7px;top:309.17px">
<b class="cb" style="background:#fce3d4"></b>
<span class="lt">L</span><span class="nb">21</span>
<span class="t1">07:11</span><span class="t2">Ste Céline</span>
</div>
<div class="rw" style="left:263.7px;top:317.5px">
<b class="cb" style="background:#fce3d4"></b>
<span class="lt">M</span><span class="nb">22</span>
<span class="t1">07:12</span><span class="t2">Ste Elodie</span>
</div>
<div class="rw" style="left:263.7px;top:325.82px">
<b class="cb" style="background:#fce3d4"></b>
<span class="lt">M</span><span class="nb">23</span>
<span class="t1">07:13</span><span class="t2">S. J. de Capistran</span>
</div>
<div class="rw" style="left:263.7px;top:334.15px">
<b class="cb" style="background:#fce3d4"></b>
<span class="lt">J</span><span class="nb">24</span>
<span class="t1">07:15</span><span class="t2">S. Florentin</span>
<i class="mo"></i>
</div>
<div class="rw" style="left:263.7px;top:342.48px">
<b class="cb" style="background:#fce3d4"></b>
<span class="lt">V</span><span class="nb">25</span>
<span class="t1">07:16</span><span class="t2">S. Crépin</span>
</div>
<div class="rw" style="left:263.7px;top:350.8px">
<b class="cb" style="background:#fce3d4"></b>
<span class="lt">S</span><span class="nb">26</span>
<span class="t1">07:18</span><span class="t2">S. Dimitri</span>
</div>
<div class="rw sun" style="left:263.7px;top:359.13px">
<b class="cs" style="background:#f2a576"></b><i class="tx"></i>
<span class="lt w">D</span><span class="nb w">27</span>
<span class="t1">07:19</span><span class="t2">Ste Emeline</span>
<svg class="clk" width="8" height="8" viewBox="0 0 8 8"><circle cx="4" cy="4" r="3" fill="#fff" stroke="#999" stroke-width="0.7"/><path d="M4 1.4V4.1L5.1 6" fill="none" stroke="#777" stroke-width="0.6"/></svg>
</div>
<div class="rw" style="left:263.7px;top:367.45px">
<b class="cb" style="background:#fce3d4"></b>
<span class="lt">L</span><span class="nb">28</span>
<span class="t1">07:21</span><span class="t2">Ss. Simon, Jude</span>
</div>
<div class="rw" style="left:263.7px;top:375.78px">
<b class="cb" style="background:#fce3d4"></b>
<span class="lt">M</span><span class="nb">29</span>
<span class="t1">07:22</span><span class="t2">S. Narcisse</span>
</div>
<div class="rw" style="left:263.7px;top:384.11px">
<b class="cb" style="background:#fce3d4"></b>
<span class="lt">M</span><span class="nb">30</span>
<span class="t1">07:23</span><span class="t2">Ste Bienvenue</span>
</div>
<div class="rw" style="left:263.7px;top:392.43px">
<b class="cb" style="background:#fce3d4"></b>
<span class="lt">J</span><span class="nb">31</span>
<span class="t1">07:25</span><span class="t2">S. Quentin</span>
</div>
<i class="el" style="left:263.7px;top:400.36px;width:72.6px"></i>
<i class="el" style="left:263.7px;top:408.68px;width:72.6px"></i>
<i class="s1" style="left:333px;top:296.68px;height:104.08px;background:#95cac2"></i>
<i class="s2" style="left:334.9px;top:296.68px;height:104.08px;background:#efb2a1"></i>
<span class="wk" style="left:319.3px;top:155.8px;color:#f0a06e">40</span>
<span class="wk" style="left:319.3px;top:214.09px;color:#f0a06e">41</span>
<span class="wk" style="left:319.3px;top:272.37px;color:#f0a06e">42</span>
<span class="wk" style="left:319.3px;top:330.65px;color:#f0a06e">43</span>
<span class="wk" style="left:319.3px;top:388.93px;color:#f0a06e">44</span>
<div class="ft" style="left:263.7px;width:72.6px;background:#f2a576"><span>Nombre de jours :</span><span>ouvrables 27 - ouvrés 23</span></div>
<div class="hd" style="left:346px;width:72.6px;background:#ec8142;letter-spacing:0.25px">NOVEMBRE</div>
<div class="gr" style="left:346px;top:126px;width:72.6px;height:40.83px;background:linear-gradient(#f6bd9a,#fff)"></div>
<i class="el" style="left:346px;top:167.23px;width:72.6px"></i>
<div class="rw" style="left:346px;top:167.63px">
<b class="cb" style="background:#fbdcc9"></b>
<b class="hb" style="background:#ec8142"></b>
<span class="lt">V</span><span class="nb w">1</span>
<span class="t1">07:26</span><span class="t2 bb">TOUSSAINT</span>
<i class="mn"></i>
</div>
<div class="rw" style="left:346px;top:175.96px">
<b class="cb" style="background:#fbdcc9"></b>
<span class="lt">S</span><span class="nb">2</span>
<span class="t1">07:27</span><span class="t2">Jour des défunts</span>
</div>
<div class="rw sun" style="left:346px;top:184.28px">
<b class="cs" style="background:#ec8142"></b><i class="tx"></i>
<span class="lt w">D</span><span class="nb w">3</span>
<span class="t1">07:29</span><span class="t2">S. Hubert</span>
</div>
<div class="rw" style="left:346px;top:192.61px">
<b class="cb" style="background:#fbdcc9"></b>
<span class="lt">L</span><span class="nb">4</span>
<span class="t1">07:30</span><span class="t2">S. Charles</span>
</div>
<div class="rw" style="left:346px;top:200.93px">
<b class="cb" style="background:#fbdcc9"></b>
<span class="lt">M</span><span class="nb">5</span>
<span class="t1">07:31</span><span class="t2">Ste Sylvie</span>
</div>
<div class="rw" style="left:346px;top:209.26px">
<b class="cb" style="background:#fbdcc9"></b>
<span class="lt">M</span><span class="nb">6</span>
<span class="t1">07:32</span><span class="t2">Ste Bertille</span>
</div>
<div class="rw" style="left:346px;top:217.59px">
<b class="cb" style="background:#fbdcc9"></b>
<span class="lt">J</span><span class="nb">7</span>
<span class="t1">07:33</span><span class="t2">Ste Carine</span>
</div>
<div class="rw" style="left:346px;top:225.91px">
<b class="cb" style="background:#fbdcc9"></b>
<span class="lt">V</span><span class="nb">8</span>
<span class="t1">07:35</span><span class="t2">S. Geoffroy</span>
</div>
<div class="rw" style="left:346px;top:234.24px">
<b class="cb" style="background:#fbdcc9"></b>
<span class="lt">S</span><span class="nb">9</span>
<span class="t1">07:36</span><span class="t2">S. Théodore</span>
<i class="mo"></i>
</div>
<div class="rw sun" style="left:346px;top:242.56px">
<b class="cs" style="background:#ec8142"></b><i class="tx"></i>
<span class="lt w">D</span><span class="nb w">10</span>
<span class="t1">07:37</span><span class="t2">S. Léon</span>
</div>
<div class="rw" style="left:346px;top:250.89px">
<b class="cb" style="background:#fbdcc9"></b>
<b class="hb" style="background:#ec8142"></b>
<span class="lt">L</span><span class="nb w">11</span>
<span class="t1">07:38</span><span class="t2 bb">ARMISTICE 1918</span>
</div>
<div class="rw" style="left:346px;top:259.22px">
<b class="cb" style="background:#fbdcc9"></b>
<span class="lt">M</span><span class="nb">12</span>
<span class="t1">07:39</span><span class="t2">S. Christian</span>
</div>
<div class="rw" style="left:346px;top:267.54px">
<b class="cb" style="background:#fbdcc9"></b>
<span class="lt">M</span><span class="nb">13</span>
<span class="t1">07:40</span><span class="t2">S. Brice</span>
</div>
<div class="rw" style="left:346px;top:275.87px">
<b class="cb" style="background:#fbdcc9"></b>
<span class="lt">J</span><span class="nb">14</span>
<span class="t1">07:41</span><span class="t2">S. Sidoine</span>
</div>
<div class="rw" style="left:346px;top:284.19px">
<b class="cb" style="background:#fbdcc9"></b>
<span class="lt">V</span><span class="nb">15</span>
<span class="t1">07:42</span><span class="t2">S. Albert</span>
<i class="mo"></i>
</div>
<div class="rw" style="left:346px;top:292.52px">
<b class="cb" style="background:#fbdcc9"></b>
<span class="lt">S</span><span class="nb">16</span>
<span class="t1">07:43</span><span class="t2">Ste Marguerite</span>
</div>
<div class="rw sun" style="left:346px;top:300.85px">
<b class="cs" style="background:#ec8142"></b><i class="tx"></i>
<span class="lt w">D</span><span class="nb w">17</span>
<span class="t1">07:44</span><span class="t2">Ste Elisabeth</span>
</div>
<div class="rw" style="left:346px;top:309.17px">
<b class="cb" style="background:#fbdcc9"></b>
<span class="lt">L</span><span class="nb">18</span>
<span class="t1">07:45</span><span class="t2">Ste Aude</span>
</div>
<div class="rw" style="left:346px;top:317.5px">
<b class="cb" style="background:#fbdcc9"></b>
<span class="lt">M</span><span class="nb">19</span>
<span class="t1">07:46</span><span class="t2">S. Tanguy</span>
</div>
<div class="rw" style="left:346px;top:325.82px">
<b class="cb" style="background:#fbdcc9"></b>
<span class="lt">M</span><span class="nb">20</span>
<span class="t1">07:47</span><span class="t2">S. Edmond</span>
</div>
<div class="rw" style="left:346px;top:334.15px">
<b class="cb" style="background:#fbdcc9"></b>
<span class="lt">J</span><span class="nb">21</span>
<span class="t1">07:47</span><span class="t2">Prés. de Marie</span>
</div>
<div class="rw" style="left:346px;top:342.48px">
<b class="cb" style="background:#fbdcc9"></b>
<span class="lt">V</span><span class="nb">22</span>
<span class="t1">07:48</span><span class="t2">Ste Cécile</span>
</div>
<div class="rw" style="left:346px;top:350.8px">
<b class="cb" style="background:#fbdcc9"></b>
<span class="lt">S</span><span class="nb">23</span>
<span class="t1">07:49</span><span class="t2">S. Clément</span>
<i class="mo"></i>
</div>
<div class="rw sun" style="left:346px;top:359.13px">
<b class="cs" style="background:#ec8142"></b><i class="tx"></i>
<span class="lt w">D</span><span class="nb w">24</span>
<span class="t1">07:50</span><span class="t2">Ste Flora</span>
</div>
<div class="rw" style="left:346px;top:367.45px">
<b class="cb" style="background:#fbdcc9"></b>
<span class="lt">L</span><span class="nb">25</span>
<span class="t1">07:51</span><span class="t2">Ste Catherine</span>
</div>
<div class="rw" style="left:346px;top:375.78px">
<b class="cb" style="background:#fbdcc9"></b>
<span class="lt">M</span><span class="nb">26</span>
<span class="t1">07:51</span><span class="t2">Ste Delphine</span>
</div>
<div class="rw" style="left:346px;top:384.11px">
<b class="cb" style="background:#fbdcc9"></b>
<span class="lt">M</span><span class="nb">27</span>
<span class="t1">07:52</span><span class="t2">S. Séverin</span>
</div>
<div class="rw" style="left:346px;top:392.43px">
<b class="cb" style="background:#fbdcc9"></b>
<span class="lt">J</span><span class="nb">28</span>
<span class="t1">07:53</span><span class="t2">S. Jacq. de la Marche</span>
</div>
<div class="rw" style="left:346px;top:400.76px">
<b class="cb" style="background:#fbdcc9"></b>
<span class="lt">V</span><span class="nb">29</span>
<span class="t1">07:53</span><span class="t2">S. Saturnin</span>
</div>
<div class="rw" style="left:346px;top:409.08px">
<b class="cb" style="background:#fbdcc9"></b>
<span class="lt">S</span><span class="nb">30</span>
<span class="t1">07:54</span><span class="t2">S. André</span>
</div>
<i class="s1" style="left:415.3px;top:167.63px;height:24.98px;background:#8fc29c"></i>
<i class="s2" style="left:417.2px;top:167.63px;height:24.98px;background:#f1aaa6"></i>
<span class="wk" style="left:401.6px;top:214.09px;color:#e87a38">45</span>
<span class="wk" style="left:401.6px;top:272.37px;color:#e87a38">46</span>
<span class="wk" style="left:401.6px;top:330.65px;color:#e87a38">47</span>
<span class="wk" style="left:401.6px;top:388.93px;color:#e87a38">48</span>
<div class="ft" style="left:346px;width:72.6px;background:#ec8142"><span>Nombre de jours :</span><span>ouvrables 24 - ouvrés 19</span></div>
<div class="hd" style="left:428.3px;width:72.6px;background:#c94b34;letter-spacing:0px">DÉCEMBRE</div>
<div class="rw sun" style="left:428.3px;top:126px">
<b class="cs" style="background:#c94b34"></b><i class="tx"></i>
<span class="lt w">D</span><span class="nb w">1</span>
<span class="t1">07:54</span><span class="t2">Avent</span>
<i class="mn"></i>
</div>
<div class="rw" style="left:428.3px;top:134.33px">
<b class="cb" style="background:#f1d1c7"></b>
<span class="lt">L</span><span class="nb">2</span>
<span class="t1">07:55</span><span class="t2">Ste Viviane</span>
</div>
<div class="rw" style="left:428.3px;top:142.65px">
<b class="cb" style="background:#f1d1c7"></b>
<span class="lt">M</span><span class="nb">3</span>
<span class="t1">07:55</span><span class="t2">S. Fr.-Xavier</span>
</div>
<div class="rw" style="left:428.3px;top:150.98px">
<b class="cb" style="background:#f1d1c7"></b>
<span class="lt">M</span><span class="nb">4</span>
<span class="t1">07:56</span><span class="t2">Ste Barbara</span>
</div>
<div class="rw" style="left:428.3px;top:159.3px">
<b class="cb" style="background:#f1d1c7"></b>
<span class="lt">J</span><span class="nb">5</span>
<span class="t1">07:56</span><span class="t2">S. Gérald</span>
</div>
<div class="rw" style="left:428.3px;top:167.63px">
<b class="cb" style="background:#f1d1c7"></b>
<span class="lt">V</span><span class="nb">6</span>
<span class="t1">07:57</span><span class="t2">S. Nicolas</span>
</div>
<div class="rw" style="left:428.3px;top:175.96px">
<b class="cb" style="background:#f1d1c7"></b>
<span class="lt">S</span><span class="nb">7</span>
<span class="t1">07:57</span><span class="t2">S. Ambroise</span>
</div>
<div class="rw sun" style="left:428.3px;top:184.28px">
<b class="cs" style="background:#c94b34"></b><i class="tx"></i>
<span class="lt w">D</span><span class="nb w">8</span>
<span class="t1">07:58</span><span class="t2">Imm. Conception</span>
<i class="mo"></i>
</div>
<div class="rw" style="left:428.3px;top:192.61px">
<b class="cb" style="background:#f1d1c7"></b>
<span class="lt">L</span><span class="nb">9</span>
<span class="t1">07:58</span><span class="t2">S. P. Fourier</span>
</div>
<div class="rw" style="left:428.3px;top:200.93px">
<b class="cb" style="background:#f1d1c7"></b>
<span class="lt">M</span><span class="nb">10</span>
<span class="t1">07:58</span><span class="t2">S. Romaric</span>
</div>
<div class="rw" style="left:428.3px;top:209.26px">
<b class="cb" style="background:#f1d1c7"></b>
<span class="lt">M</span><span class="nb">11</span>
<span class="t1">07:58</span><span class="t2">S. Daniel</span>
</div>
<div class="rw" style="left:428.3px;top:217.59px">
<b class="cb" style="background:#f1d1c7"></b>
<span class="lt">J</span><span class="nb">12</span>
<span class="t1">07:59</span><span class="t2">Ste J.-F. Chantal</span>
</div>
<div class="rw" style="left:428.3px;top:225.91px">
<b class="cb" style="background:#f1d1c7"></b>
<span class="lt">V</span><span class="nb">13</span>
<span class="t1">07:59</span><span class="t2">Ste Lucie</span>
</div>
<div class="rw" style="left:428.3px;top:234.24px">
<b class="cb" style="background:#f1d1c7"></b>
<span class="lt">S</span><span class="nb">14</span>
<span class="t1">07:59</span><span class="t2">Ste Odile</span>
</div>
<div class="rw sun" style="left:428.3px;top:242.56px">
<b class="cs" style="background:#c94b34"></b><i class="tx"></i>
<span class="lt w">D</span><span class="nb w">15</span>
<span class="t1">07:59</span><span class="t2">Ste Ninon</span>
<i class="mo"></i>
</div>
<div class="rw" style="left:428.3px;top:250.89px">
<b class="cb" style="background:#f1d1c7"></b>
<span class="lt">L</span><span class="nb">16</span>
<span class="t1">07:59</span><span class="t2">Ste Alice</span>
</div>
<div class="rw" style="left:428.3px;top:259.22px">
<b class="cb" style="background:#f1d1c7"></b>
<span class="lt">M</span><span class="nb">17</span>
<span class="t1">07:59</span><span class="t2">S. Gaël</span>
</div>
<div class="rw" style="left:428.3px;top:267.54px">
<b class="cb" style="background:#f1d1c7"></b>
<span class="lt">M</span><span class="nb">18</span>
<span class="t1">07:59</span><span class="t2">S. Gatien</span>
</div>
<div class="rw" style="left:428.3px;top:275.87px">
<b class="cb" style="background:#f1d1c7"></b>
<span class="lt">J</span><span class="nb">19</span>
<span class="t1">07:59</span><span class="t2">S. Urbain</span>
</div>
<div class="rw" style="left:428.3px;top:284.19px">
<b class="cb" style="background:#f1d1c7"></b>
<span class="lt">V</span><span class="nb">20</span>
<span class="t1">07:59</span><span class="t2">S. Théophile</span>
</div>
<div class="rw" style="left:428.3px;top:292.52px">
<b class="cb" style="background:#f1d1c7"></b>
<span class="lt">S</span><span class="nb">21</span>
<span class="t1">07:59</span><span class="t2">S. Pierre C.</span>
</div>
<div class="rw sun" style="left:428.3px;top:300.85px">
<b class="cs" style="background:#c94b34"></b><i class="tx"></i>
<span class="lt w">D</span><span class="nb w">22</span>
<span class="t1">07:59</span><span class="t2">Ste Fr.-Xavière</span>
<i class="mo"></i>
</div>
<div class="rw" style="left:428.3px;top:309.17px">
<b class="cb" style="background:#f1d1c7"></b>
<span class="lt">L</span><span class="nb">23</span>
<span class="t1">07:59</span><span class="t2">S. Armand</span>
</div>
<div class="rw" style="left:428.3px;top:317.5px">
<b class="cb" style="background:#f1d1c7"></b>
<span class="lt">M</span><span class="nb">24</span>
<span class="t1">07:59</span><span class="t2">Ste Adèle</span>
</div>
<div class="rw" style="left:428.3px;top:325.82px">
<b class="cb" style="background:#f1d1c7"></b>
<b class="hb" style="background:#c94b34"></b>
<span class="lt">M</span><span class="nb w">25</span>
<span class="t1">07:59</span><span class="t2 bb">NOËL</span>
</div>
<div class="rw" style="left:428.3px;top:334.15px">
<b class="cb" style="background:#f1d1c7"></b>
<span class="lt">J</span><span class="nb">26</span>
<span class="t1">07:59</span><span class="t2">S. Etienne</span>
</div>
<div class="rw" style="left:428.3px;top:342.48px">
<b class="cb" style="background:#f1d1c7"></b>
<span class="lt">V</span><span class="nb">27</span>
<span class="t1">07:59</span><span class="t2">S. Jean</span>
</div>
<div class="rw" style="left:428.3px;top:350.8px">
<b class="cb" style="background:#f1d1c7"></b>
<span class="lt">S</span><span class="nb">28</span>
<span class="t1">07:58</span><span class="t2">Ss. Innocents</span>
</div>
<div class="rw sun" style="left:428.3px;top:359.13px">
<b class="cs" style="background:#c94b34"></b><i class="tx"></i>
<span class="lt w">D</span><span class="nb w">29</span>
<span class="t1">07:58</span><span class="t2">S. David</span>
</div>
<div class="rw" style="left:428.3px;top:367.45px">
<b class="cb" style="background:#f1d1c7"></b>
<span class="lt">L</span><span class="nb">30</span>
<span class="t1">07:58</span><span class="t2">S. Roger</span>
<i class="mn"></i>
</div>
<div class="rw" style="left:428.3px;top:375.78px">
<b class="cb" style="background:#f1d1c7"></b>
<span class="lt">M</span><span class="nb">31</span>
<span class="t1">07:58</span><span class="t2">S. Sylvestre</span>
</div>
<i class="el" style="left:428.3px;top:383.71px;width:72.6px"></i>
<i class="el" style="left:428.3px;top:392.03px;width:72.6px"></i>
<i class="el" style="left:428.3px;top:400.36px;width:72.6px"></i>
<i class="el" style="left:428.3px;top:408.68px;width:72.6px"></i>
<i class="s1" style="left:497.6px;top:296.68px;height:87.42px;background:#8fc29c"></i>
<i class="s2" style="left:499.5px;top:296.68px;height:87.42px;background:#f1aaa6"></i>
<span class="wk" style="left:483.9px;top:155.8px;color:#c4442d">49</span>
<span class="wk" style="left:483.9px;top:214.09px;color:#c4442d">50</span>
<span class="wk" style="left:483.9px;top:272.37px;color:#c4442d">51</span>
<span class="wk" style="left:483.9px;top:330.65px;color:#c4442d">52</span>
<div class="ft" style="left:428.3px;width:72.6px;background:#c94b34"><span>Nombre de jours :</span><span>ouvrables 25 - ouvrés 21</span></div>
<div class="hd" style="left:510.6px;width:72.6px;background:#2d8fd5;letter-spacing:0.3px">JANVIER 2025</div>
<div class="gr" style="left:510.6px;top:126px;width:72.6px;height:24.18px;background:linear-gradient(#b3d1f0,#f3f7fc)"></div>
<i class="el" style="left:510.6px;top:150.58px;width:72.6px"></i>
<div class="rw jan" style="left:510.6px;top:150.98px">
<b class="cb" style="background:#d4e4f5"></b>
<b class="hb" style="background:#2d8fd5"></b>
<span class="lt">M</span><span class="nb w">1</span>
<span class="t1">07:58</span><span class="t2 bb">JOUR DE L'AN</span>
</div>
<div class="rw jan" style="left:510.6px;top:159.3px">
<b class="cb" style="background:#d4e4f5"></b>
<span class="lt">J</span><span class="nb">2</span>
<span class="t1">07:57</span><span class="t2">S. Basile</span>
</div>
<div class="rw jan" style="left:510.6px;top:167.63px">
<b class="cb" style="background:#d4e4f5"></b>
<span class="lt">V</span><span class="nb">3</span>
<span class="t1">07:57</span><span class="t2">Ste Geneviève</span>
</div>
<div class="rw jan" style="left:510.6px;top:175.96px">
<b class="cb" style="background:#d4e4f5"></b>
<span class="lt">S</span><span class="nb">4</span>
<span class="t1">07:56</span><span class="t2">S. Odilon</span>
</div>
<div class="rw sun jan" style="left:510.6px;top:184.28px">
<b class="cs" style="background:#2d8fd5"></b><i class="tx"></i>
<span class="lt w">D</span><span class="nb w">5</span>
<span class="t1">07:56</span><span class="t2">Epiphanie</span>
</div>
<div class="rw jan" style="left:510.6px;top:192.61px">
<b class="cb" style="background:#d4e4f5"></b>
<span class="lt">L</span><span class="nb">6</span>
<span class="t1">07:55</span><span class="t2">Ste Mélaine</span>
<i class="mo"></i>
</div>
<div class="rw jan" style="left:510.6px;top:200.93px">
<b class="cb" style="background:#d4e4f5"></b>
<span class="lt">M</span><span class="nb">7</span>
<span class="t1">07:55</span><span class="t2">S. Raymond</span>
</div>
<div class="rw jan" style="left:510.6px;top:209.26px">
<b class="cb" style="background:#d4e4f5"></b>
<span class="lt">M</span><span class="nb">8</span>
<span class="t1">07:54</span><span class="t2">S. Lucien</span>
</div>
<div class="rw jan" style="left:510.6px;top:217.59px">
<b class="cb" style="background:#d4e4f5"></b>
<span class="lt">J</span><span class="nb">9</span>
<span class="t1">07:54</span><span class="t2">Ste Alix</span>
</div>
<div class="rw jan" style="left:510.6px;top:225.91px">
<b class="cb" style="background:#d4e4f5"></b>
<span class="lt">V</span><span class="nb">10</span>
<span class="t1">07:53</span><span class="t2">S. Guillaume</span>
</div>
<div class="rw jan" style="left:510.6px;top:234.24px">
<b class="cb" style="background:#d4e4f5"></b>
<span class="lt">S</span><span class="nb">11</span>
<span class="t1">07:53</span><span class="t2">S. Paulin</span>
</div>
<div class="rw sun jan" style="left:510.6px;top:242.56px">
<b class="cs" style="background:#2d8fd5"></b><i class="tx"></i>
<span class="lt w">D</span><span class="nb w">12</span>
<span class="t1">07:52</span><span class="t2">Ste Tatiana</span>
</div>
<div class="rw jan" style="left:510.6px;top:250.89px">
<b class="cb" style="background:#d4e4f5"></b>
<span class="lt">L</span><span class="nb">13</span>
<span class="t1">07:51</span><span class="t2">Ste Yvette</span>
<i class="mo"></i>
</div>
<div class="rw jan" style="left:510.6px;top:259.22px">
<b class="cb" style="background:#d4e4f5"></b>
<span class="lt">M</span><span class="nb">14</span>
<span class="t1">07:51</span><span class="t2">Ste Nina</span>
</div>
<div class="rw jan" style="left:510.6px;top:267.54px">
<b class="cb" style="background:#d4e4f5"></b>
<span class="lt">M</span><span class="nb">15</span>
<span class="t1">07:50</span><span class="t2">S. Rémi</span>
</div>
<div class="rw jan" style="left:510.6px;top:275.87px">
<b class="cb" style="background:#d4e4f5"></b>
<span class="lt">J</span><span class="nb">16</span>
<span class="t1">07:49</span><span class="t2">S. Marcel</span>
</div>
<div class="rw jan" style="left:510.6px;top:284.19px">
<b class="cb" style="background:#d4e4f5"></b>
<span class="lt">V</span><span class="nb">17</span>
<span class="t1">07:48</span><span class="t2">Ste Roseline</span>
</div>
<div class="rw jan" style="left:510.6px;top:292.52px">
<b class="cb" style="background:#d4e4f5"></b>
<span class="lt">S</span><span class="nb">18</span>
<span class="t1">07:47</span><span class="t2">Ste Prisca</span>
</div>
<div class="rw sun jan" style="left:510.6px;top:300.85px">
<b class="cs" style="background:#2d8fd5"></b><i class="tx"></i>
<span class="lt w">D</span><span class="nb w">19</span>
<span class="t1">07:47</span><span class="t2">S. Marius</span>
</div>
<div class="rw jan" style="left:510.6px;top:309.17px">
<b class="cb" style="background:#d4e4f5"></b>
<span class="lt">L</span><span class="nb">20</span>
<span class="t1">07:46</span><span class="t2">S. Sébastien</span>
</div>
<div class="rw jan" style="left:510.6px;top:317.5px">
<b class="cb" style="background:#d4e4f5"></b>
<span class="lt">M</span><span class="nb">21</span>
<span class="t1">07:45</span><span class="t2">Ste Agnès</span>
<i class="mo"></i>
</div>
<div class="rw jan" style="left:510.6px;top:325.82px">
<b class="cb" style="background:#d4e4f5"></b>
<span class="lt">M</span><span class="nb">22</span>
<span class="t1">07:44</span><span class="t2">S. Vincent</span>
</div>
<div class="rw jan" style="left:510.6px;top:334.15px">
<b class="cb" style="background:#d4e4f5"></b>
<span class="lt">J</span><span class="nb">23</span>
<span class="t1">07:43</span><span class="t2">S. Barnard</span>
</div>
<div class="rw jan" style="left:510.6px;top:342.48px">
<b class="cb" style="background:#d4e4f5"></b>
<span class="lt">V</span><span class="nb">24</span>
<span class="t1">07:42</span><span class="t2">S. Fr. de Sales</span>
</div>
<div class="rw jan" style="left:510.6px;top:350.8px">
<b class="cb" style="background:#d4e4f5"></b>
<span class="lt">S</span><span class="nb">25</span>
<span class="t1">07:41</span><span class="t2">Conv. S. Paul</span>
</div>
<div class="rw sun jan" style="left:510.6px;top:359.13px">
<b class="cs" style="background:#2d8fd5"></b><i class="tx"></i>
<span class="lt w">D</span><span class="nb w">26</span>
<span class="t1">07:40</span><span class="t2">Ste Paule</span>
</div>
<div class="rw jan" style="left:510.6px;top:367.45px">
<b class="cb" style="background:#d4e4f5"></b>
<span class="lt">L</span><span class="nb">27</span>
<span class="t1">07:39</span><span class="t2">Ste Angèle</span>
</div>
<div class="rw jan" style="left:510.6px;top:375.78px">
<b class="cb" style="background:#d4e4f5"></b>
<span class="lt">M</span><span class="nb">28</span>
<span class="t1">07:38</span><span class="t2">S. Th. d'Aquin</span>
</div>
<div class="rw jan" style="left:510.6px;top:384.11px">
<b class="cb" style="background:#d4e4f5"></b>
<span class="lt">M</span><span class="nb">29</span>
<span class="t1">07:37</span><span class="t2">S. Gildas</span>
<i class="mn"></i>
</div>
<div class="rw jan" style="left:510.6px;top:392.43px">
<b class="cb" style="background:#d4e4f5"></b>
<span class="lt">J</span><span class="nb">30</span>
<span class="t1">07:36</span><span class="t2">Ste Martine</span>
</div>
<div class="rw jan" style="left:510.6px;top:400.76px">
<b class="cb" style="background:#d4e4f5"></b>
<span class="lt">V</span><span class="nb">31</span>
<span class="t1">07:35</span><span class="t2">Ste Marcelle</span>
</div>
<i class="el" style="left:510.6px;top:408.68px;width:72.6px"></i>
<i class="s1" style="left:579.9px;top:150.98px;height:41.63px;background:#8fc29c"></i>
<i class="s2" style="left:581.8px;top:150.98px;height:41.63px;background:#f1aaa6"></i>
<span class="wk" style="left:566.2px;top:155.8px;color:#2a8bd2">01</span>
<span class="wk" style="left:566.2px;top:214.09px;color:#2a8bd2">02</span>
<span class="wk" style="left:566.2px;top:272.37px;color:#2a8bd2">03</span>
<span class="wk" style="left:566.2px;top:330.65px;color:#2a8bd2">04</span>
<span class="wk" style="left:566.2px;top:388.93px;color:#2a8bd2">05</span>
<div class="ft" style="left:510.6px;width:72.6px;background:#2d8fd5"><span>Nombre de jours :</span><span>ouvrables 26 - ouvrés 22</span></div>
<div id="legend"><span class="la">Lever et coucher du soleil</span><span class="lb">&#9719;</span><span class="lc">Heure d'hiver</span><span class="ld">Heure légale : GMT +1</span></div>
</body></html>
